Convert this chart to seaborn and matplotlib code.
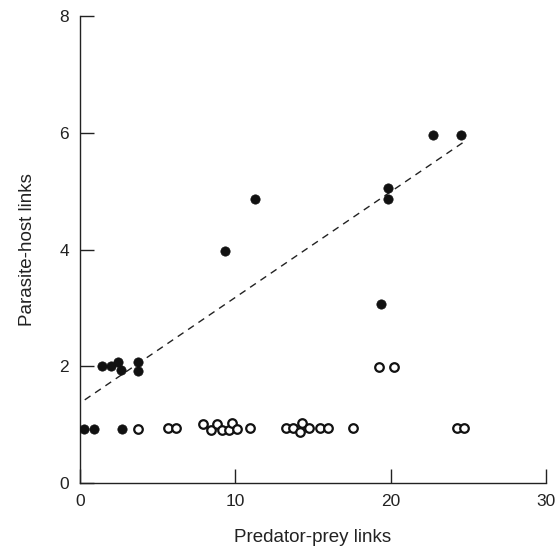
import matplotlib
matplotlib.use("Agg")
import matplotlib.pyplot as plt
import seaborn as sns
import numpy as np
import pandas as pd

# filled points
filled_x = [0.26, 0.90, 2.68, 1.40, 1.98, 2.47, 2.64, 3.75, 3.75,
            9.34, 11.29, 19.40, 19.83, 19.83, 22.71, 24.51]
filled_y = [0.92, 0.92, 0.92, 2.01, 2.01, 2.08, 1.93, 2.07, 1.92,
            3.97, 4.86, 3.06, 5.05, 4.86, 5.96, 5.96]

# open points
open_x = [3.75, 5.64, 6.18, 7.94, 8.41, 8.80, 9.16, 9.60, 9.81, 10.13, 10.95,
          13.24, 13.69, 14.27, 14.17, 14.77, 15.45, 15.95, 17.56, 24.25, 24.75,
          19.25, 20.24]
open_y = [0.92, 0.95, 0.95, 1.01, 0.91, 1.01, 0.90, 0.90, 1.02, 0.92, 0.95,
          0.95, 0.95, 1.02, 0.88, 0.95, 0.95, 0.95, 0.95, 0.95, 0.95,
          1.99, 1.99]

# fitted line (intercept, slope) and its x range
fit_coef = [1.37, 0.181]
fit_range = [0.3, 24.7]

sns.set_style("ticks")
plt.rcParams['font.family'] = ['Liberation Sans', 'DejaVu Sans']

fig = plt.figure(figsize=(5.6, 5.52), dpi=100)
ax = fig.add_axes([0.143, 0.125, 0.832, 0.846])

fx = np.array(fit_range)
fy = fit_coef[0] + fit_coef[1] * fx
sns.lineplot(x=fx, y=fy, ax=ax, color='#222222', lw=1.0, linestyle=(0, (5, 4)))

sns.scatterplot(x=open_x, y=open_y, ax=ax, s=38, facecolor='white',
                edgecolor='#111111', linewidth=1.6, zorder=3)
sns.scatterplot(x=filled_x, y=filled_y, ax=ax, s=45, color='#111111',
                edgecolor='#111111', linewidth=0.5, zorder=4)

ax.set_xlim(0, 30)
ax.set_ylim(0, 8)
ax.set_xticks([0, 10, 20, 30])
ax.set_yticks([0, 2, 4, 6, 8])
ax.tick_params(direction='in', length=10, width=1, labelsize=12.5,
               colors='#222222', pad=8)
sns.despine(ax=ax)
for s in ['left', 'bottom']:
    ax.spines[s].set_color('#222222')
    ax.spines[s].set_linewidth(1.0)

ax.set_xlabel('Predator-prey links', fontsize=13.5, labelpad=14, color='#222222')
ax.set_ylabel('Parasite-host links', fontsize=13.5, labelpad=17, color='#222222')

fig.savefig('out.png', dpi=100)
